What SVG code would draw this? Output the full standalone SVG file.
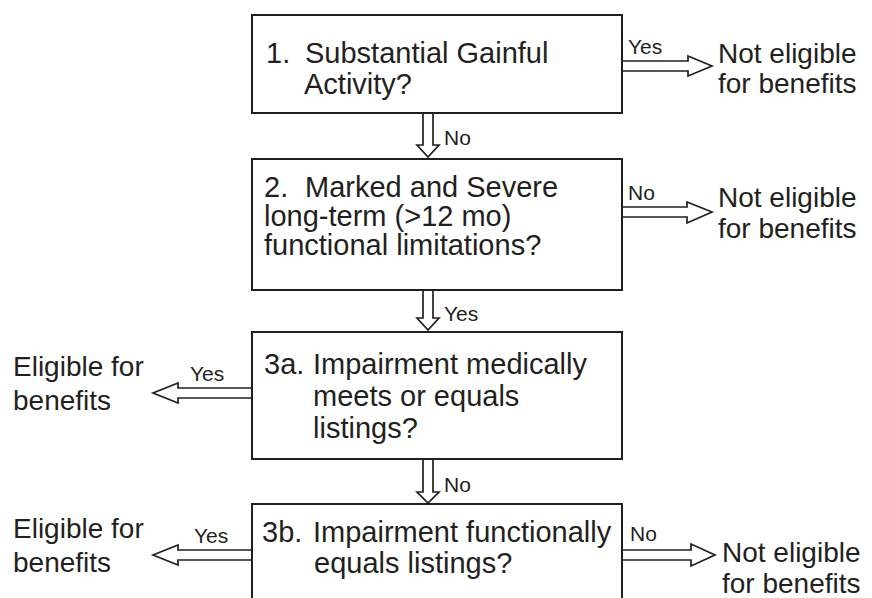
<svg xmlns="http://www.w3.org/2000/svg" width="872" height="598" viewBox="0 0 872 598">
<style>
.box{fill:#fff;stroke:#231f20;stroke-width:2}
.arr{fill:#fff;stroke:#231f20;stroke-width:1.7;stroke-linejoin:miter}
.t{font-family:"Liberation Sans",Arial,sans-serif;font-size:28px;fill:#231f20}
.b{font-family:"Liberation Sans",Arial,sans-serif;font-size:29px;fill:#231f20}
.l{font-family:"Liberation Sans",Arial,sans-serif;font-size:21px;fill:#231f20}
</style>
<rect width="872" height="598" fill="#fff"/>
<g id="connectors">
<path class="arr" d="M622,61 H688 V56 L712,66 L688,76 V71 H622"/>
<path class="arr" d="M423,113 V145 H417 L428,157 L439,145 H433 V113"/>
<path class="arr" d="M622,207 H687 V202 L712,212 L687,223 V217 H622"/>
<path class="arr" d="M423,290 V318 H417 L428,330 L439,318 H433 V290"/>
<path class="arr" d="M252,388 H178 V383 L153,393 L178,403 V398 H252"/>
<path class="arr" d="M423,459 V492 H417 L428,503 L439,492 H433 V459"/>
<path class="arr" d="M252,550 H178 V545 L153,555 L178,565 V560 H252"/>
<path class="arr" d="M622,550 H691 V544 L715,555 L691,566 V560 H622"/>
<text class="l" x="628" y="54">Yes</text>
<text class="l" x="444" y="145">No</text>
<text class="l" x="628" y="200">No</text>
<text class="l" x="444" y="321">Yes</text>
<text class="l" x="190" y="381">Yes</text>
<text class="l" x="194" y="543">Yes</text>
<text class="l" x="444" y="492">No</text>
<text class="l" x="630" y="541">No</text>
</g>
<g id="n1">
<rect class="box" x="252" y="15" width="370" height="98"/>
<text class="b"><tspan x="266" y="63">1.</tspan><tspan x="305" y="63">Substantial Gainful</tspan><tspan x="304" y="94">Activity?</tspan></text>
</g>
<g id="n1-out">
<text class="t"><tspan x="718" y="63">Not eligible</tspan><tspan x="718" y="93">for benefits</tspan></text>
</g>
<g id="n2">
<rect class="box" x="252" y="159" width="370" height="131"/>
<text class="b"><tspan x="264" y="197">2.</tspan><tspan x="305" y="197">Marked and Severe</tspan><tspan x="264" y="226">long-term (&gt;12 mo)</tspan><tspan x="264" y="255">functional limitations?</tspan></text>
</g>
<g id="n2-out">
<text class="t"><tspan x="718" y="207">Not eligible</tspan><tspan x="718" y="238">for benefits</tspan></text>
</g>
<g id="n3a">
<rect class="box" x="252" y="332" width="370" height="127"/>
<text class="b"><tspan x="264" y="374">3a.</tspan><tspan x="313" y="374">Impairment medically</tspan><tspan x="313" y="406">meets or equals</tspan><tspan x="313" y="438">listings?</tspan></text>
</g>
<g id="n3a-out">
<text class="t"><tspan x="13" y="376">Eligible for</tspan><tspan x="13" y="410">benefits</tspan></text>
</g>
<g id="n3b">
<rect class="box" x="252" y="504" width="370" height="120"/>
<text class="b"><tspan x="262" y="542">3b.</tspan><tspan x="313" y="542">Impairment functionally</tspan><tspan x="314" y="573">equals listings?</tspan></text>
</g>
<g id="n3b-out">
<text class="t"><tspan x="13" y="538">Eligible for</tspan><tspan x="13" y="572">benefits</tspan></text>
</g>
<g id="n3b-no">
<text class="t"><tspan x="722" y="562">Not eligible</tspan><tspan x="722" y="593">for benefits</tspan></text>
</g>
</svg>
